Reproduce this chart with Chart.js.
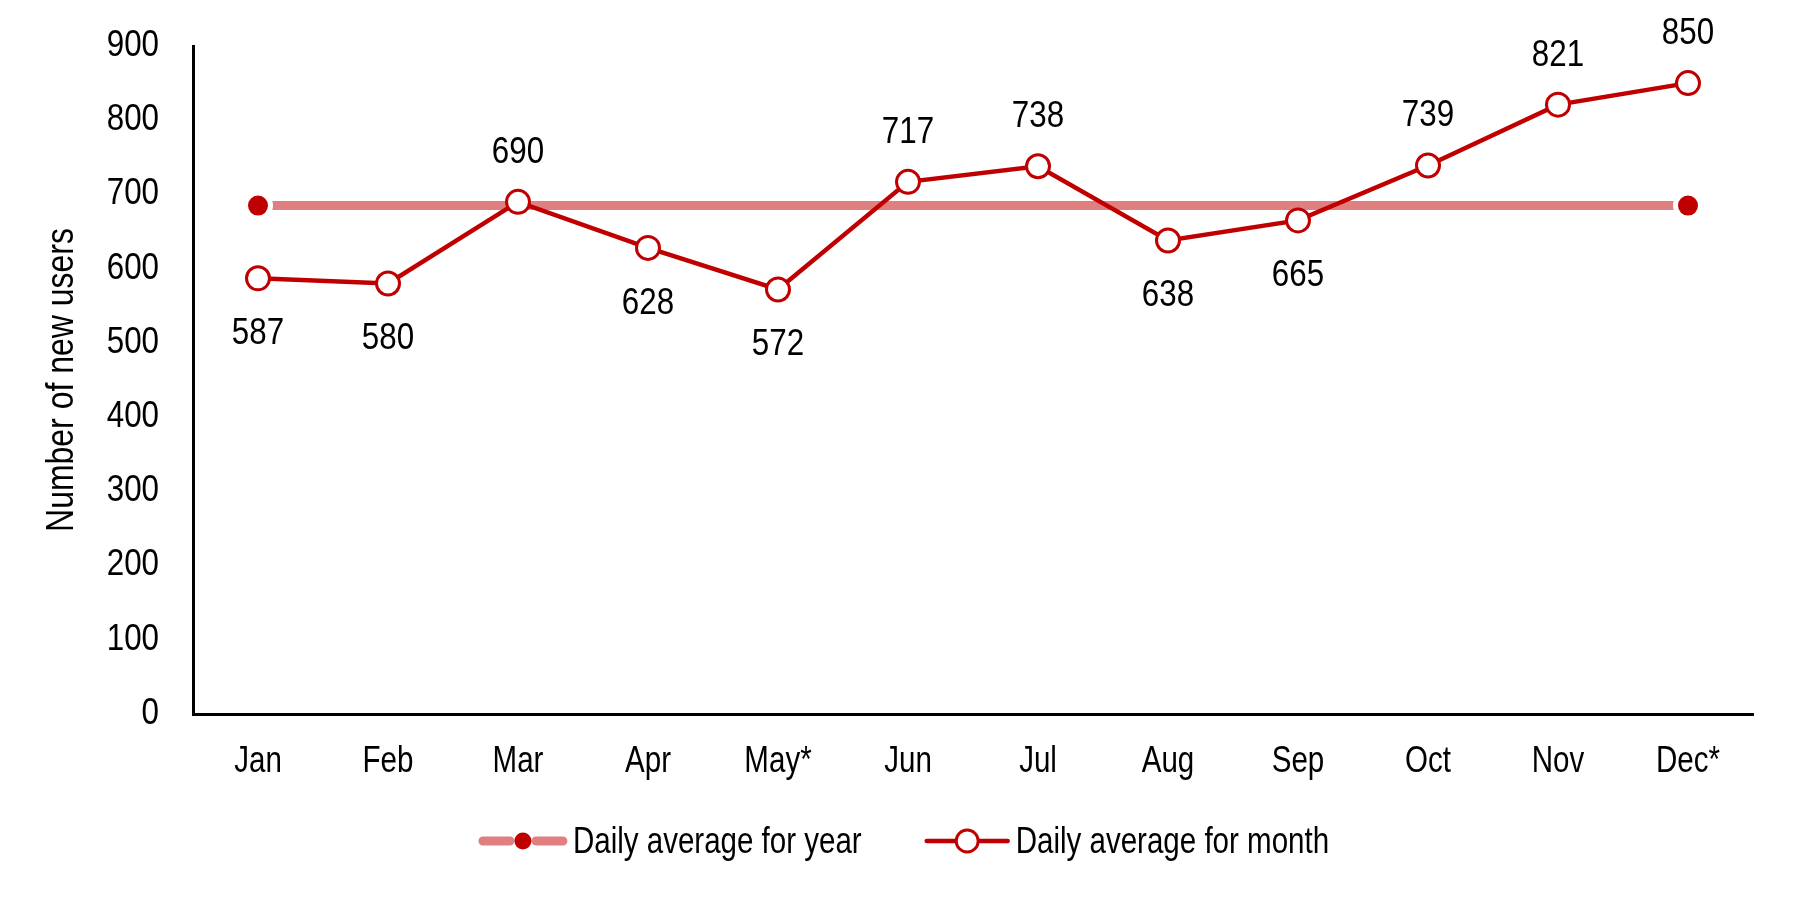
<!DOCTYPE html>
<html>
<head>
<meta charset="utf-8">
<script src="https://cdn.jsdelivr.net/npm/chart.js@4.4.1/dist/chart.umd.min.js"></script>
<style>
  html, body { margin: 0; padding: 0; background: #ffffff; }
  #wrap { width: 1800px; height: 900px; }
</style>
</head>
<body>
<div id="wrap"><canvas id="c" width="1800" height="900"></canvas></div>
<script>
// ---- data ----
const months = ['Jan', 'Feb', 'Mar', 'Apr', 'May*', 'Jun', 'Jul', 'Aug', 'Sep', 'Oct', 'Nov', 'Dec*'];
const monthlyAvg = [587, 580, 690, 628, 572, 717, 738, 638, 665, 739, 821, 850];
const yearlyAvg = [685, 685, 685, 685, 685, 685, 685, 685, 685, 685, 685, 685];
const yTickValues = [0, 100, 200, 300, 400, 500, 600, 700, 800, 900];
const seriesNames = ['Daily average for year', 'Daily average for month'];
const yAxisTitle = 'Number of new users';

// ---- styles ----
const FONT = "'Liberation Sans', Arial, sans-serif";
const FS = 36;
const TITLE_FS = 39;
const NARROW_TEXT = 0.82;   // emulate a narrow (condensed) typeface
const NARROW_DIGITS = 0.87;
const DARK_RED = '#C00000';
const PALE_RED = '#E07F7F';
Chart.defaults.font.family = FONT;
Chart.defaults.font.size = FS;
Chart.defaults.color = '#000000';

const canvas = document.getElementById('c');
const ctx2d = canvas.getContext('2d');
const narrowFor = (t) => (/^[0-9.,\s]+$/.test(String(t)) ? NARROW_DIGITS : NARROW_TEXT);
const origFillText = ctx2d.fillText.bind(ctx2d);
ctx2d.fillText = function (text, x, y, maxWidth) {
  this.save();
  this.translate(x, y);
  this.scale(narrowFor(text), 1);
  origFillText(text, 0, 0);
  this.restore();
};

const dataLabelPlugin = {
  id: 'dataLabels',
  afterDatasetsDraw(chart) {
    const ctx = chart.ctx;
    const meta = chart.getDatasetMeta(1);
    ctx.save();
    ctx.font = FS + 'px ' + FONT;
    ctx.fillStyle = '#000000';
    ctx.textAlign = 'center';
    ctx.textBaseline = 'middle';
    meta.data.forEach((el, i) => {
      const v = monthlyAvg[i];
      const above = v >= yearlyAvg[i];
      const y = el.y + (above ? -51 : 54);
      ctx.fillText(String(v), el.x, y + 2);
    });
    ctx.restore();
  }
};

const legendPlugin = {
  id: 'customLegend',
  afterDraw(chart) {
    const ctx = chart.ctx;
    ctx.save();
    ctx.font = FS + 'px ' + FONT;
    const sampleW = [88, 85];
    const gapText = 6;
    const gapItem = 63;
    const widths = seriesNames.map(n => ctx.measureText(n).width * NARROW_TEXT);
    const total = sampleW[0] + gapText + widths[0] + gapItem + sampleW[1] + gapText + widths[1];
    let x = chart.width / 2 + 4 - total / 2;
    const cy = 841;
    // item 0: yearly average
    const ds0 = chart.data.datasets[0];
    ctx.lineCap = 'round';
    ctx.strokeStyle = ds0.borderColor;
    ctx.lineWidth = 9;
    ctx.beginPath();
    ctx.moveTo(x + 4, cy); ctx.lineTo(x + 31, cy);
    ctx.moveTo(x + 57, cy); ctx.lineTo(x + sampleW[0] - 4, cy);
    ctx.stroke();
    ctx.fillStyle = DARK_RED;
    ctx.beginPath();
    ctx.arc(x + sampleW[0] / 2, cy, 8.5, 0, Math.PI * 2);
    ctx.fill();
    x += sampleW[0] + gapText;
    ctx.fillStyle = '#000000';
    ctx.textAlign = 'left';
    ctx.textBaseline = 'middle';
    ctx.fillText(seriesNames[0], x, cy + 2);
    x += widths[0] + gapItem;
    // item 1: monthly average
    const ds1 = chart.data.datasets[1];
    ctx.strokeStyle = ds1.borderColor;
    ctx.lineWidth = 4.5;
    ctx.beginPath();
    ctx.moveTo(x + 2, cy); ctx.lineTo(x + sampleW[1] - 2, cy);
    ctx.stroke();
    ctx.fillStyle = '#ffffff';
    ctx.lineWidth = 3;
    ctx.beginPath();
    ctx.arc(x + sampleW[1] / 2, cy, 11, 0, Math.PI * 2);
    ctx.fill();
    ctx.stroke();
    x += sampleW[1] + gapText;
    ctx.fillStyle = '#000000';
    ctx.fillText(seriesNames[1], x, cy + 2);
    ctx.restore();
  }
};

const lastIdx = months.length - 1;

new Chart(canvas, {
  type: 'line',
  data: {
    labels: months,
    datasets: [
      {
        label: seriesNames[0],
        data: yearlyAvg,
        order: 1,
        borderColor: PALE_RED,
        borderWidth: 9,
        borderCapStyle: 'butt',
        pointRadius: (c) => (c.dataIndex === 0 || c.dataIndex === lastIdx) ? 12.5 : 0,
        pointBackgroundColor: DARK_RED,
        pointBorderColor: '#ffffff',
        pointBorderWidth: 5,
        pointHoverRadius: 0,
        tension: 0,
        fill: false
      },
      {
        label: seriesNames[1],
        data: monthlyAvg,
        order: 0,
        borderColor: DARK_RED,
        borderWidth: 4.5,
        pointRadius: 11.5,
        pointBackgroundColor: '#ffffff',
        pointBorderColor: DARK_RED,
        pointBorderWidth: 3,
        pointHoverRadius: 11.5,
        tension: 0,
        fill: false
      }
    ]
  },
  options: {
    responsive: false,
    animation: false,
    devicePixelRatio: 1,
    layout: { padding: { top: 46, right: 47, bottom: 0, left: 0 } },
    plugins: {
      legend: { display: false },
      tooltip: { enabled: false },
      title: { display: false }
    },
    scales: {
      x: {
        type: 'category',
        offset: true,
        grid: { display: false, drawTicks: false },
        border: { display: true, color: '#000000', width: 3 },
        ticks: { padding: 26, color: '#000000', font: { size: FS }, maxRotation: 0, autoSkip: false },
        afterFit: (s) => { s.height = 186; s.paddingLeft = 0; s.paddingRight = 0; }
      },
      y: {
        min: 0,
        max: 900,
        grid: { display: false, drawTicks: false },
        border: { display: true, color: '#000000', width: 3 },
        afterBuildTicks: (s) => { s.ticks = yTickValues.map(v => ({ value: v })); },
        ticks: { padding: 34, color: '#000000', font: { size: FS } },
        title: { display: true, text: yAxisTitle, color: '#000000', font: { size: TITLE_FS }, padding: { top: 39, bottom: 0 } },
        afterFit: (s) => { s.width = 193; s.paddingTop = 0; s.paddingBottom = 0; }
      }
    }
  },
  plugins: [dataLabelPlugin, legendPlugin]
});
</script>
</body>
</html>
